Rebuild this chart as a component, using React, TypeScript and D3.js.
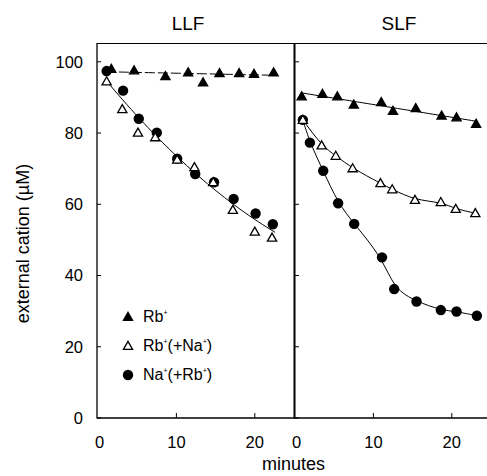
import React from 'react';
import * as d3 from 'd3';

// LLF panel
const llfRbMin = [1.7, 4.6, 8.6, 11.5, 13.4, 15.5, 18.0, 19.9, 22.4];
const llfRb = [98.0, 97.6, 96.0, 97.0, 94.2, 96.8, 96.8, 96.6, 97.0];
const llfRbNaMin = [1.1, 3.1, 5.1, 7.3, 10.1, 12.3, 14.7, 17.2, 20.0, 22.2];
const llfRbNa = [94.5, 86.7, 80.1, 78.8, 72.5, 70.4, 66.2, 58.4, 52.3, 50.6];
const llfNaMin = [1.1, 3.2, 5.2, 7.5, 10.1, 12.4, 14.8, 17.3, 20.1, 22.3];
const llfNa = [97.4, 91.9, 84.0, 80.1, 72.8, 68.5, 66.2, 61.5, 57.4, 54.4];

// SLF panel
const slfRbMin = [0.85, 3.5, 5.4, 7.5, 11.0, 12.5, 15.4, 18.7, 20.6, 23.1];
const slfRb = [90.3, 91.0, 90.3, 88.0, 88.7, 86.2, 87.0, 84.9, 84.4, 82.6];
const slfRbNaMin = [1.0, 3.4, 5.2, 7.35, 10.9, 12.4, 15.3, 18.6, 20.5, 23.0];
const slfRbNa = [83.7, 76.5, 73.6, 70.1, 65.9, 64.2, 61.2, 60.6, 58.7, 57.5];
const slfNaMin = [1.0, 1.9, 3.6, 5.5, 7.55, 11.1, 12.65, 15.5, 18.6, 20.6, 23.2];
const slfNa = [83.7, 77.3, 69.4, 60.3, 54.5, 45.1, 36.2, 32.7, 30.3, 29.9, 28.7];

const yTicks = [0, 20, 40, 60, 80, 100];
const xTicks = [0, 10, 20];
const panels = ['LLF', 'SLF'];

const font = 'Liberation Sans, Arial, sans-serif';

const y = d3.scaleLinear().domain([0, 105]).range([418, 44]);
const xL = d3.scaleLinear().domain([0, 25]).range([98, 294]);
const xR = d3.scaleLinear().domain([0, 25]).range([295, 491]);

function pts(xs: number[], ys: number[]) {
  return xs.map((d, i) => [d, ys[i]] as [number, number]);
}

// least squares polynomial (degree 1 or 2)
function polyFit(data: [number, number][], deg: number) {
  const n = deg + 1;
  const A = Array.from({ length: n }, () => new Array(n + 1).fill(0));
  data.forEach(([px, py]) => {
    for (let r = 0; r < n; r++) {
      for (let c = 0; c < n; c++) A[r][c] += Math.pow(px, r + c);
      A[r][n] += py * Math.pow(px, r);
    }
  });
  for (let i = 0; i < n; i++) {
    for (let k = i + 1; k < n; k++) {
      const f = A[k][i] / A[i][i];
      for (let j = i; j <= n; j++) A[k][j] -= f * A[i][j];
    }
  }
  const c = new Array(n).fill(0);
  for (let i = n - 1; i >= 0; i--) {
    let s = A[i][n];
    for (let j = i + 1; j < n; j++) s -= A[i][j] * c[j];
    c[i] = s / A[i][i];
  }
  return (t: number) => c.reduce((a, ci, i) => a + ci * Math.pow(t, i), 0);
}

function Tri({ cx, cy, fill }: { cx: number; cy: number; fill: string }) {
  const s = 4.6;
  return (
    <path
      d={`M${cx},${cy - s}L${cx + s},${cy + s * 0.75}L${cx - s},${cy + s * 0.75}Z`}
      fill={fill}
      stroke="#000"
      strokeWidth={1.3}
    />
  );
}

function Sup({ children }: { children: string }) {
  return (
    <tspan fontSize={7} dy={-7}>
      {children}
    </tspan>
  );
}

export default function App() {
  const line = d3.line<[number, number]>();

  const llfDash = polyFit(pts(llfRbMin, llfRb), 1);
  const llfCurve = polyFit([...pts(llfRbNaMin, llfRbNa), ...pts(llfNaMin, llfNa)], 2);
  const slfLin = polyFit(pts(slfRbMin, slfRb), 1);

  const sample = (f: (t: number) => number, a: number, b: number, xs: d3.ScaleLinear<number, number>) =>
    d3.range(0, 41).map((i) => {
      const t = a + ((b - a) * i) / 40;
      return [xs(t), y(f(t))] as [number, number];
    });

  const smooth = d3.line<[number, number]>().curve(d3.curveBasis);

  const marks = (
    xs: d3.ScaleLinear<number, number>,
    rbX: number[], rb: number[], rnX: number[], rn: number[], naX: number[], na: number[]
  ) => (
    <g>
      {rbX.map((d, i) => <Tri key={'a' + i} cx={xs(d)} cy={y(rb[i])} fill="#000" />)}
      {naX.map((d, i) => <circle key={'c' + i} cx={xs(d)} cy={y(na[i])} r={5.2} fill="#000" />)}
      {rnX.map((d, i) => <Tri key={'b' + i} cx={xs(d)} cy={y(rn[i])} fill="#fff" />)}
    </g>
  );

  const titleX = [188, 399];

  return (
    <svg width={487} height={476} style={{ position: 'absolute', left: 0, top: 0, background: '#fff' }}
      fontFamily={font}>
      {/* frame */}
      <line x1={97} x2={97} y1={43} y2={418.5} stroke="#000" strokeWidth={1.3} />
      <line x1={294.5} x2={294.5} y1={43} y2={418.5} stroke="#000" strokeWidth={2} />
      <line x1={97} x2={492} y1={43.5} y2={43.5} stroke="#000" strokeWidth={1} />
      <line x1={97} x2={492} y1={418} y2={418} stroke="#000" strokeWidth={1.5} />

      {/* y ticks */}
      {yTicks.map((t) => (
        <g key={t}>
          <line x1={97} x2={101} y1={y(t)} y2={y(t)} stroke="#000" />
          <line x1={295} x2={299} y1={y(t)} y2={y(t)} stroke="#000" />
          <text x={83} y={y(t)} dy="0.36em" textAnchor="end" fontSize={16.5}>{t}</text>
        </g>
      ))}

      {/* x ticks */}
      {[xL, xR].map((xs, k) => (
        <g key={k}>
          {xTicks.map((t) => (
            <g key={t}>
              {t > 0 && <line x1={xs(t)} x2={xs(t)} y1={418} y2={413} stroke="#000" />}
              <text x={xs(t) + (t === 0 ? 1.5 : 0)} y={448} textAnchor="middle" fontSize={16.5}>{t}</text>
            </g>
          ))}
          <text x={titleX[k]} y={30} textAnchor="middle" fontSize={19}>{panels[k]}</text>
        </g>
      ))}

      <text x={293.5} y={470} textAnchor="middle" fontSize={18}>minutes</text>
      <text transform="translate(29,243.5) rotate(-90)" textAnchor="middle" fontSize={18}>
        external cation (µM)
      </text>

      {/* LLF fits */}
      <path d={line(sample(llfDash, 1, 22.8, xL)) || ''} fill="none" stroke="#000" strokeWidth={1}
        strokeDasharray="10,3" />
      <path d={line(sample(llfCurve, 1, 22.6, xL)) || ''} fill="none" stroke="#000" strokeWidth={1} />

      {/* SLF fits */}
      <path d={line(sample(slfLin, slfRbMin[0], slfRbMin[slfRbMin.length - 1], xR)) || ''} fill="none"
        stroke="#000" strokeWidth={1} />
      <path d={smooth(pts(slfRbNaMin, slfRbNa).map(([a, b]) => [xR(a), y(b)] as [number, number])) || ''}
        fill="none" stroke="#000" strokeWidth={1} />
      <path d={smooth(pts(slfNaMin, slfNa).map(([a, b]) => [xR(a), y(b)] as [number, number])) || ''}
        fill="none" stroke="#000" strokeWidth={1} />

      {marks(xL, llfRbMin, llfRb, llfRbNaMin, llfRbNa, llfNaMin, llfNa)}
      {marks(xR, slfRbMin, slfRb, slfRbNaMin, slfRbNa, slfNaMin, slfNa)}

      {/* legend */}
      <Tri cx={128} cy={317} fill="#000" />
      <text x={143} y={322} fontSize={16}>Rb<Sup>+</Sup></text>
      <Tri cx={128} cy={346} fill="#fff" />
      <text x={143} y={351} fontSize={16}>Rb<Sup>+</Sup><tspan dy={7}>(+Na</tspan><Sup>+</Sup><tspan dy={7}>)</tspan></text>
      <circle cx={128} cy={375} r={5.2} fill="#000" />
      <text x={143} y={380} fontSize={16}>Na<Sup>+</Sup><tspan dy={7}>(+Rb</tspan><Sup>+</Sup><tspan dy={7}>)</tspan></text>
    </svg>
  );
}
